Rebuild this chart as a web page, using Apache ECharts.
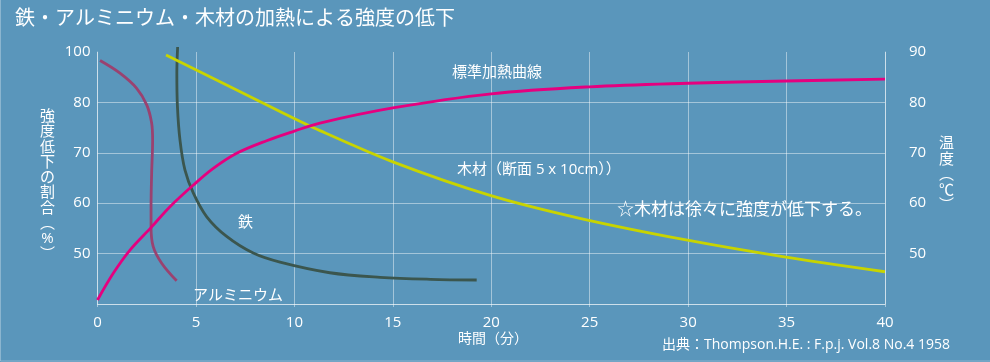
<!DOCTYPE html>
<html><head><meta charset="utf-8">
<script src="https://cdn.jsdelivr.net/npm/echarts@6/dist/echarts.min.js"></script>
<style>html,body{margin:0;padding:0;background:#5a96bb;}#c{width:990px;height:362px;}</style>
</head><body><div id="c"></div>
<script>
// ---- data ----
const titleText = '鉄・アルミニウム・木材の加熱による強度の低下';
const leftTickValues = [40, 50, 60, 70, 80, 90];
const leftTickLabels = ['', '50', '60', '70', '80', '100'];
const rightTickLabels = ['', '50', '60', '70', '80', '90'];
const heatT = [0, 0.8, 1.65, 2.75, 3.68, 4.87, 5.88, 7.07, 8.59, 10, 11.3, 15, 20, 25, 30, 35, 40];
const heatV = [40.8, 46.1, 50.7, 55.3, 59.3, 63.6, 66.9, 69.9, 72.4, 74.3, 75.9, 78.9, 81.7, 83.1, 83.8, 84.25, 84.6];
const woodT = [3.48, 9.27, 11.3, 15.0, 19.9, 24.5, 29.9, 34.8, 40];
const woodV = [89.4, 78.2, 74.4, 68.2, 61.6, 57.0, 52.7, 49.4, 46.4];
const ironT = [4.07, 4.03, 4.06, 4.19, 4.44, 4.87, 5.55, 6.56, 7.91, 9.27, 11.8, 14.35, 16.9, 19.26];
const ironV = [91.0, 85.8, 79.2, 72.5, 66.6, 62.0, 57.3, 53.4, 50.1, 48.3, 46.2, 45.3, 44.9, 44.76];
const alT = [0.13, 1.14, 1.99, 2.50, 2.75, 2.80, 2.75, 2.72, 2.72, 2.83, 3.26, 4.02];
const alV = [88.3, 85.8, 82.8, 79.5, 75.9, 72.5, 65.9, 59.3, 55.3, 51.4, 48.1, 44.6];

const zip = (a, b) => a.map((v, i) => [v, b[i]]);
const FONT = "'Open Sans','Noto Sans CJK JP',sans-serif";
const GRID = 'rgba(255,255,255,0.45)';
const W = '#ffffff';

const chart = echarts.init(document.getElementById('c'));
const txt = (text, x, y, size, align) => ({
  type: 'text', x: x, y: y,
  style: { text: text, fill: W, font: size + 'px ' + FONT, textAlign: align || 'left', textVerticalAlign: 'middle' }
});
const vtxt = (chars, x, y, size, lh) => ({
  type: 'text', x: x, y: y,
  style: { text: chars.join('\n'), fill: W, font: size + 'px ' + FONT, textAlign: 'center', textVerticalAlign: 'top', lineHeight: lh }
});

chart.setOption({
  backgroundColor: '#5a96bb',
  animation: false,
  grid: { left: 97.5, right: 105, top: 52, bottom: 58 },
  xAxis: {
    type: 'value', min: 0, max: 40, interval: 5,
    axisLine: { show: true, lineStyle: { color: GRID, width: 1 } },
    axisTick: { show: true, length: 3, lineStyle: { color: GRID } },
    splitLine: { show: true, lineStyle: { color: GRID, width: 1 } },
    axisLabel: { color: W, fontSize: 15, fontFamily: FONT, margin: 11 }
  },
  yAxis: [{
    type: 'value', min: 40, max: 90, interval: 10, position: 'left',
    axisLine: { show: true, lineStyle: { color: GRID } },
    axisTick: { show: false },
    splitLine: { show: true, showMaxLine: false, lineStyle: { color: GRID } },
    axisLabel: { color: W, fontSize: 15, fontFamily: FONT, margin: 7,
      formatter: v => leftTickLabels[leftTickValues.indexOf(v)] }
  }, {
    type: 'value', min: 40, max: 90, interval: 10, position: 'right',
    axisLine: { show: true, lineStyle: { color: GRID } },
    axisTick: { show: false },
    splitLine: { show: false },
    axisLabel: { color: W, fontSize: 15, fontFamily: FONT, margin: 24, align: 'left',
      formatter: v => rightTickLabels[leftTickValues.indexOf(v)] }
  }],
  series: [
    { name: 'アルミニウム', type: 'line', data: zip(alT, alV), smooth: 0.35, showSymbol: false,
      lineStyle: { color: '#9a4270', width: 2.8 } },
    { name: '鉄', type: 'line', data: zip(ironT, ironV), smooth: 0.35, showSymbol: false, clip: false,
      lineStyle: { color: '#3b564e', width: 2.8 } },
    { name: '木材', type: 'line', data: zip(woodT, woodV), smooth: 0.3, showSymbol: false,
      lineStyle: { color: '#c8d400', width: 2.8 } },
    { name: '標準加熱曲線', type: 'line', data: zip(heatT, heatV), smooth: 0.35, showSymbol: false,
      lineStyle: { color: '#e5007f', width: 2.8 } }
  ],
  graphic: [
    txt(titleText, 15, 19, 20),
    txt('標準加熱曲線', 452, 72.5, 15),
    txt('木材（断面 5 x 10cm））', 457, 170, 15),
    txt('☆木材は徐々に強度が低下する。', 617, 210.5, 17),
    txt('鉄', 245.5, 222.5, 15, 'center'),
    txt('アルミニウム', 193, 295.5, 15),
    txt('時間（分）', 458, 339, 14),
    txt('出典：Thompson.H.E. : F.p.j. Vol.8 No.4 1958', 950, 345, 14, 'right'),
    vtxt(['強','度','低','下','の','割','合','︵','%','︶'], 47.5, 109, 15, 15.3),
    vtxt(['温','度','︵','℃','︶'], 946.5, 136, 15, 15.5),
    { type: 'rect', shape: { x: 0.5, y: -5, width: 1000, height: 366 }, style: { fill: null, stroke: 'rgba(255,255,255,0.3)', lineWidth: 1 } }
  ]
});
</script></body></html>
